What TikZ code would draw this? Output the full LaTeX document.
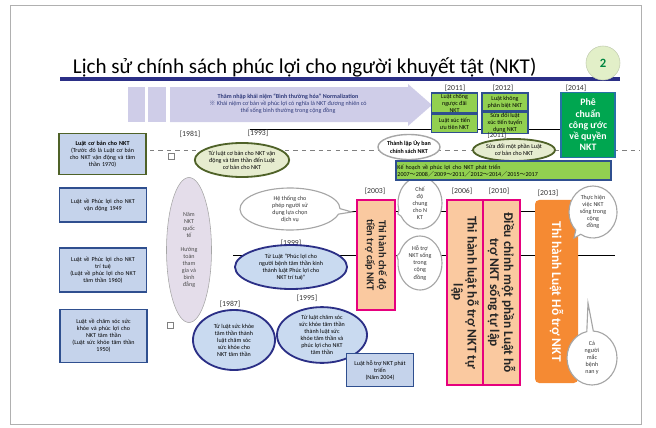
\documentclass[tikz,border=0pt]{standalone}
\usepackage{fontspec}
\setmainfont{Carlito}
\newfontfamily\kyhieu{Noto Sans CJK JP}
\usepackage{tikz}
\usetikzlibrary{shapes.geometric,shapes.callouts,positioning}
\definecolor{XanhDam}{HTML}{2B2F86}
\definecolor{XanhVien}{HTML}{2F4F8F}
\definecolor{XanhNhat}{HTML}{C5D3EB}
\definecolor{XanhElip}{HTML}{C9DAF0}
\definecolor{XanhChu}{HTML}{2F3A7A}
\definecolor{Tim}{HTML}{CFCDE8}
\definecolor{TimNhat}{HTML}{E4DDEA}
\definecolor{OliuNhat}{HTML}{E6ECCF}
\definecolor{OliuDam}{HTML}{4F6228}
\definecolor{XanhLa}{HTML}{92D050}
\definecolor{LaDam}{HTML}{00A650}
\definecolor{CamNhat}{HTML}{FAC9A0}
\definecolor{Cam}{HTML}{F58A33}
\definecolor{Hong}{HTML}{E6007E}
\definecolor{XamVien}{HTML}{A6A6A6}
\definecolor{Khung}{HTML}{B0B0B0}
\definecolor{TronNhat}{HTML}{E2EFC8}

\begin{document}
\begin{tikzpicture}[x=0.025cm,y=-0.025cm,font=\fontsize{4.3}{5}\selectfont,
  hopluat/.style={draw=XanhVien,line width=1.2pt,fill=XanhNhat,align=center,inner sep=1pt,text width=2.1cm},
  hopla/.style={draw=XanhVien,line width=1pt,fill=XanhLa,align=center,inner sep=0.5pt,minimum width=1.15cm},
  elipoliu/.style={ellipse,draw=OliuDam,line width=1.3pt,fill=OliuNhat,align=center,inner sep=0pt},
  elipxanh/.style={ellipse,draw=XanhDam,line width=1.3pt,fill=XanhElip,align=center,inner sep=0pt},
  bongbong/.style={ellipse callout,draw=XamVien,line width=0.8pt,fill=white,align=center,inner sep=0pt,text=black!80},
  hophong/.style={draw=Hong,line width=1.4pt,fill=CamNhat,align=center,rotate=-90,inner sep=1pt,
    font=\fontsize{7.5}{8.5}\selectfont\bfseries,text=black!85},
  chulon/.style={font=\fontsize{9.5}{10}\selectfont\bfseries,inner sep=0.5pt},
  nam/.style={font=\fontsize{5.5}{6}\selectfont,text=black!80},
  duong/.style={black,line width=0.6pt}]
\useasboundingbox (0,0) rectangle (656,427);
\draw[Khung,line width=0.6pt] (10,5) rectangle (641,424);

% Tiêu đề
\node[anchor=west,font=\fontsize{15}{18}\selectfont] (tieude) at (68,67)
  {Lịch sử chính sách phúc lợi cho người khuyết tật (NKT)};
\draw[XanhDam,line width=2.2pt] (60,79) -- (620,79);
\node[circle,draw=TronNhat!70!gray,fill=TronNhat,minimum size=0.85cm,text=LaDam!80!black,
  font=\fontsize{9}{10}\selectfont\bfseries] (trang) at (603,63) {2};

% Các đường thời gian
\draw[duong] (250,129) -- (560,129);
\draw[gray,dashed,line width=0.6pt] (150,150) -- (640,150);
\draw[duong] (340,211) -- (575,211);
\draw[duong] (233,255) -- (615,255);

% Mũi tên bình thường hóa
\fill[Tim] (128,87) rectangle (145,122);
\fill[Tim] (148,87) rectangle (166,122);
\fill[Tim] (170,87) -- (408,87) -- (408,84) -- (432,105) -- (408,126) -- (408,122) -- (170,122) -- cycle;
\node[text=XanhChu,align=center] (chuanhoa) at (288,104)
  {\textbf{Thâm nhập khái niệm “Bình thường hóa” Normalization}\\
   {\kyhieu ※} Khái niệm cơ bản về phúc lợi có nghĩa là NKT đương nhiên có\\
   thể sống bình thường trong cộng đồng};

% Năm 2011, 2012, 2014
\node[nam] (n2011a) at (455,88) {[2011]};
\node[hopla,minimum height=0.5cm] (nguocdai) at (454.5,103) {Luật chống\\ngược đãi\\NKT};
\node[hopla,minimum height=0.45cm,below=0pt of nguocdai] (uutien) {Luật xúc tiến\\ưu tiên NKT};
\node[nam] (n2012) at (503,88) {[2012]};
\node[hopla,minimum height=0.45cm] (phanbiet) at (505,102) {Luật không\\phân biệt NKT};
\node[hopla,minimum height=0.5cm,below=0pt of phanbiet] (tuyendung) {Sửa đổi luật\\xúc tiến tuyển\\dụng NKT};
\node[nam] (n2014) at (576,88) {[2014]};
\node[draw=XanhVien!80!cyan,line width=1.2pt,fill=LaDam,text=white,align=center,
  minimum width=1.35cm,minimum height=1.625cm,font=\fontsize{7}{8}\selectfont\bfseries] (conguoc) at (588,125)
  {Phê\\chuẩn\\công ước\\về quyền\\NKT};

% Cột luật bên trái
\node[hopluat,draw=OliuDam,minimum height=1.025cm] (coban) at (102.5,154)
  {\textbf{Luật cơ bản cho NKT}\\(Trước đó là Luật cơ bản\\cho NKT vận động và tâm\\thần 1970)};
\node[hopluat,minimum height=0.85cm] (vandong) at (103,205) {Luật về Phúc lợi cho NKT\\vận động 1949};
\node[hopluat,minimum height=1.1cm] (tritue) at (103,270)
  {Luật về Phúc lợi cho NKT\\trí tuệ\\(Luật về phúc lợi cho NKT\\tâm thần 1960)};
\node[hopluat,minimum height=1.325cm] (tamthan) at (103.5,336)
  {Luật về chăm sóc sức\\khỏe và phúc lợi cho\\NKT tâm thần\\(Luật sức khỏe tâm thần\\1950)};
\node[draw=gray,minimum size=0.15cm,inner sep=0pt] (vuong1) at (171,156) {};
\node[draw=gray,minimum size=0.15cm,inner sep=0pt] (vuong2) at (170,325) {};

% Năm NKT quốc tế
\node[ellipse,draw=XamVien,fill=TimNhat,minimum width=1.125cm,minimum height=3.625cm,
  align=center,inner sep=0pt,text=black!70] (quocte) at (189,250)
  {Năm\\NKT\\quốc\\tế\\[5pt]Hướng\\toàn\\tham\\gia và\\bình\\đẳng};

% Các mốc 1981 -- 1999
\node[nam] (n1981) at (190,134) {[1981]};
\node[nam] (n1993) at (258,133) {[1993]};
\node[elipoliu,minimum width=2.15cm,minimum height=0.85cm] (doiten) at (242,160)
  {Từ luật cơ bản cho NKT vận\\động và tâm thần đến Luật\\cơ bản cho NKT};
\node[bongbong,minimum width=2.5cm,minimum height=1.05cm,callout absolute pointer={(352,212)}] (luachon) at (290,209)
  {Hệ thống cho\\phép người sử\\dụng lựa chọn\\dịch vụ};
\node[nam] (n1999) at (291,243) {[1999]};
\node[elipxanh,minimum width=2.8cm,minimum height=1.1cm] (trituel) at (291,267)
  {Từ Luật “Phúc lợi cho\\người bệnh tâm thần kinh\\thành luật Phúc lợi cho\\NKT trí tuệ”};
\node[nam] (n1987) at (230,304) {[1987]};
\node[elipxanh,minimum width=2.05cm,minimum height=1.5cm] (suckhoe) at (234,340)
  {Từ luật sức khỏe\\tâm thần thành\\luật chăm sóc\\sức khỏe cho\\NKT tâm thần};
\node[nam] (n1995) at (307,298) {[1995]};
\node[elipxanh,minimum width=2.25cm,minimum height=1.35cm] (phucloi) at (322,335)
  {Từ luật chăm sóc\\sức khỏe tâm thần\\thành luật sức\\khỏe tâm thần và\\phúc lợi cho NKT\\tâm thần};
\node[draw=XanhVien,line width=1.2pt,fill=XanhNhat,align=center,minimum width=1.675cm,
  minimum height=0.825cm,inner sep=1pt] (phattrien) at (380,370)
  {Luật hỗ trợ NKT phát\\triển\\(Năm 2004)};

% Các mốc 2003 -- 2013
\node[nam] (n2003) at (375,191) {[2003]};
\node[hophong,minimum width=2.75cm,minimum height=0.95cm] (trocap) at (376,255)
  {Thi hành chế độ\\tiền trợ cấp NKT};
\node[bongbong,minimum width=1.1cm,minimum height=1.3cm,callout absolute pointer={(398,214)}] (chedo) at (420,203)
  {Chế\\độ\\chung\\cho N\\KT};
\node[bongbong,minimum width=1.1cm,minimum height=1.35cm,callout absolute pointer={(397,256)}] (congdong) at (420,263)
  {Hỗ trợ\\NKT sống\\trong\\cộng\\đồng};
\node[ellipse,draw=XamVien,line width=1pt,fill=white,align=center,inner sep=0pt,
  minimum width=1.55cm,minimum height=0.625cm] (uyban) at (409,147)
  {\textbf{Thành lập Ủy ban}\\\textbf{chính sách NKT}};
\node[nam,font=\fontsize{5}{5.5}\selectfont] (n2011b) at (497,135) {[2011]};
\node[elipoliu,minimum width=2.05cm,minimum height=0.55cm] (suadoi) at (514,150)
  {Sửa đổi một phần Luật\\cơ bản cho NKT};
\node[draw=XanhVien,line width=1pt,fill=XanhLa,align=left,text width=5.3cm,
  minimum height=0.475cm,inner sep=1pt] (kehoach) at (503.5,170.5)
  {Kế hoạch về phúc lợi cho NKT phát triển\\2007{\kyhieu ～}2008{\kyhieu ／}2009{\kyhieu ～}2011{\kyhieu ／}2012{\kyhieu ～}2014{\kyhieu ／}2015{\kyhieu ～}2017};
\node[nam] (n2006) at (462,191) {[2006]};
\node[nam] (n2010) at (499,191) {[2010]};
\node[nam] (n2013) at (548,193) {[2013]};
\node[hophong,chulon,minimum width=4.625cm,minimum height=0.9cm] (tulap) at (465,292.5)
  {Thi hành luật hỗ trợ NKT tự\\lập};
\node[hophong,chulon,minimum width=4.625cm,minimum height=0.925cm] (dieuchinh) at (501.5,292.5)
  {Điều chỉnh một phần Luật hỗ\\trợ NKT sống tự lập};
\node[fill=Cam,rounded corners=3pt,rotate=-90,minimum width=4.575cm,minimum height=1.075cm,
  text=white,chulon] (hotro) at (556.5,291.5)
  {Thi hành Luật Hỗ trợ NKT};
\node[bongbong,minimum width=1.2cm,minimum height=1.3cm,callout absolute pointer={(574,238)}] (thuchien) at (593,212)
  {Thực hiện\\việc NKT\\sống trong\\cộng\\đồng};
\node[bongbong,minimum width=1.25cm,minimum height=1.35cm,callout absolute pointer={(588,303)}] (nany) at (592,358)
  {Cả\\người\\mắc\\bệnh\\nan y};
\end{tikzpicture}
\end{document}
